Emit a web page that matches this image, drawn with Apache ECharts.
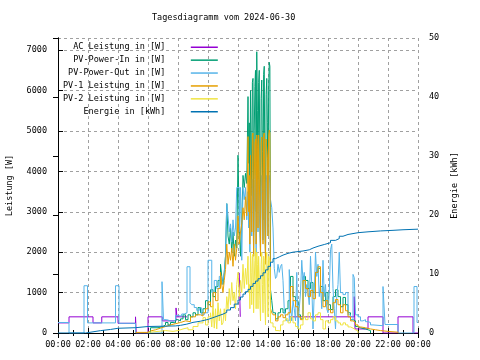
<!DOCTYPE html>
<html><head><meta charset="utf-8">
<script src="https://cdn.jsdelivr.net/npm/echarts@6/dist/echarts.min.js"></script>
<style>html,body{margin:0;padding:0;background:#fff}#c{width:480px;height:360px}</style>
</head><body><div id="c"></div>
<script>
const FONT = '"DejaVu Sans Mono", "Liberation Mono", monospace';
const titleText = 'Tagesdiagramm vom 2024-06-30';
const xTickLabels = ['00:00','02:00','04:00','06:00','08:00','10:00','12:00','14:00','16:00','18:00','20:00','22:00','00:00'];
const seriesNames = ['AC Leistung in [W]','PV-Power-In in [W]','PV-Power-Out in [W]','PV-1 Leistung in [W]','PV-2 Leistung in [W]','Energie in [kWh]'];
const seriesColors = ['#9400d3','#009e73','#56b4e9','#e69f00','#f0e442','#0072b2'];

const acLeistung = [["00:00",250],["00:44",400],["02:20",250],["02:55",400],["04:00",240],["05:10",400],["05:13",0],["06:00",400],["06:57",300],["07:52",620],["07:56",400],["08:36",400],["08:37",null],
  ["12:05",1490],["12:09",400],["12:10",400],["12:11",null],
  ["15:25",400],["19:45",900],["19:48",100],["20:40",400],["21:40",0],["22:40",400],["23:40",0],["24:00",0]];

// 11:00 - 12:35, one value every 5 minutes
const dense1Start = "11:00";
const pvInDense1 = [1200,1500,1900,3200,2400,2200,2600,2000,2500,1900,2300,2100,
  4400,2700,1900,2800,3900,3600,3950,3700];
const pvOutDense1 = [1300,1500,1900,3200,2900,2500,2700,2250,2800,2400,2600,3600,
  3600,2500,3600,1800,3600,3300,3600,2800];
const pv1Dense1 = [1000,1300,1570,2200,1700,2000,1800,2100,1650,2200,1800,2100,
  2900,2200,2500,2700,3100,2800,3370,2900];
const pv2Dense1 = [250,600,300,900,600,1100,700,1250,800,1000,600,1200,
  1500,900,1300,1000,1700,1100,1600,1200];

// 12:40 - 14:10, one value every 2.5 minutes
const dense2Start = "12:40";
const pvInDense2 = [5850,4200,5200,3000,6000,4800,3400,6200,6300,2500,5000,6100,6500,3000,6960,5500,3300,6200,6500,4000,2300,5800,6260,4500,2800,6400,6600,3800,2000,5900,6300,5200,3000,6000,6700,6600,1070];
const pv1Dense2 = [4860,3000,3900,2200,4400,3600,2500,4900,4950,1900,3800,4700,4800,2200,4900,4600,2600,4900,4900,3000,1900,4700,4850,3500,2200,4900,4950,2800,1700,4800,4800,4300,2400,4900,5020,4950,600];
const pv2Dense2 = [1900,1000,1200,600,2000,1500,700,1900,1950,500,1300,1800,2100,600,2000,1700,600,1900,1900,800,300,1700,2000,1200,500,1900,1800,700,200,1800,2000,1500,400,1900,1900,1800,250];
const pvOutDense2 = [3500,2600,3000,2000,3600,3000,2400,3800,3800,1900,3000,3700,3900,2000,3800,3500,2500,3800,3800,2400,2000,3600,3900,2900,2300,3800,3800,2400,1900,3700,3900,3300,2400,3800,3900,3700,3300];

const pvInAm = [["06:00",0],["06:10",130],["06:40",160],["07:00",200],["07:10",260],["07:20",200],["07:30",260],["07:40",250],["07:50",330],["08:00",300],["08:10",350],["08:20",450],["08:30",330],["08:40",450],["08:50",400],["09:00",500],["09:10",450],["09:20",630],["09:30",500],["09:40",600],["09:50",800],["10:00",700],["10:10",1070],["10:20",900],["10:30",1150],["10:40",1300],["10:50",1700],["10:55",1400]];
const pvInPm = [["14:15",800],["14:20",500],["14:30",350],["14:40",500],["14:50",600],["15:00",500],["15:10",600],["15:20",800],["15:30",1400],["15:40",900],["15:50",800],["16:00",450],["16:10",350],["16:20",1400],["16:30",1300],["16:40",1100],["16:50",1250],["17:00",1000],["17:10",1500],["17:20",1600],["17:30",1150],["17:40",800],["17:50",1000],["18:00",700],["18:10",580],["18:20",900],["18:30",1070],["18:40",900],["18:50",650],["19:00",880],["19:10",700],["19:20",500],["19:30",330],["19:40",300],["19:50",160],["20:00",130],["20:10",110],["20:20",100],["20:30",80],["20:40",60],["20:50",0]];

const pvOutAm = [["00:00",260],["00:44",0],["01:44",1170],["01:58",250],["03:50",1170],["04:04",240],["05:10",0],["06:56",1270],["07:02",330],["07:15",300],["07:30",290],["07:40",320],["07:50",430],["08:00",420],["08:15",470],["08:25",500],["08:36",1640],["08:48",750],["08:55",700],["09:05",630],["09:15",560],["09:25",620],["09:35",450],["09:45",500],["10:00",1800],["10:15",1000],["10:25",1300],["10:35",1100],["10:45",1400],["10:55",1200]];
const pvOutPm = [["14:15",3100],["14:20",2600],["14:25",1600],["14:30",1350],["14:35",1400],["14:40",1700],["14:45",1500],["14:50",1650],["14:55",1700],["15:00",1300],["15:05",600],["15:10",400],["15:15",300],["15:25",1570],["15:30",700],["15:35",300],["15:40",800],["15:45",600],["15:50",300],["15:55",1500],["16:00",100],["16:05",600],["16:10",1000],["16:15",1800],["16:20",1300],["16:25",1500],["16:30",900],["16:35",1200],["16:40",1000],["16:45",700],["16:50",1900],["16:55",1200],["17:00",100],["17:05",1000],["17:10",2000],["17:15",1400],["17:20",1700],["17:25",900],["17:30",1200],["17:35",600],["17:40",1800],["17:45",900],["17:50",1200],["17:55",600],["18:00",500],["18:05",1000],["18:10",2060],["18:15",2200],["18:20",1100],["18:25",600],["18:30",100],["18:35",900],["18:40",1200],["18:45",2000],["18:50",1000],["19:00",950],["19:10",1000],["19:20",450],["19:30",330],["19:40",1450],["19:45",1370],["19:50",450],["20:00",400],["20:10",300],["20:20",330],["20:30",280],["20:40",260],["20:50",200],["21:00",180],["21:40",1150],["21:48",210],["22:40",0],["23:44",1150],["23:56",260],["24:00",260]];

const pv1Am = [["05:10",15],["06:00",50],["06:10",80],["06:30",120],["06:50",160],["07:10",200],["07:30",230],["07:50",260],["08:10",300],["08:30",280],["08:50",400],["09:10",450],["09:30",420],["09:40",500],["09:50",600],["10:00",770],["10:10",650],["10:20",1000],["10:30",800],["10:40",1100],["10:50",1500],["10:55",1200]];
const pv1Pm = [["14:15",500],["14:20",450],["14:30",300],["14:40",400],["14:50",450],["15:00",380],["15:10",450],["15:20",500],["15:30",1150],["15:40",800],["15:50",650],["16:00",400],["16:10",330],["16:20",1300],["16:30",1100],["16:40",900],["16:50",1050],["17:00",850],["17:10",1500],["17:20",1640],["17:30",1000],["17:40",650],["17:50",800],["18:00",580],["18:10",500],["18:20",750],["18:30",830],["18:40",700],["18:50",500],["19:00",700],["19:10",550],["19:20",400],["19:30",300],["19:40",260],["19:50",200],["20:00",150],["20:10",130],["20:30",100],["20:50",80],["21:10",60],["21:30",40],["22:00",20],["22:40",0]];

const pv2Am = [["06:00",20],["06:10",40],["06:40",60],["07:10",40],["07:40",60],["08:00",100],["08:20",130],["08:40",80],["09:00",160],["09:20",250],["09:40",380],["09:50",200],["10:00",400],["10:10",500],["10:15",150],["10:20",700],["10:25",120],["10:30",600],["10:35",100],["10:40",750],["10:45",300],["10:50",600],["10:55",200]];
const pv2Pm = [["14:15",250],["14:20",150],["14:30",60],["14:40",50],["14:50",200],["15:00",300],["15:10",350],["15:20",250],["15:30",400],["15:40",250],["15:50",160],["16:00",100],["16:10",200],["16:20",400],["16:30",330],["16:40",500],["16:50",350],["17:00",300],["17:10",450],["17:20",500],["17:30",330],["17:40",100],["17:50",300],["18:00",250],["18:10",330],["18:20",400],["18:30",300],["18:40",250],["18:50",200],["19:00",250],["19:10",200],["19:20",150],["19:30",120],["19:40",80],["19:50",50],["20:00",0]];

const energie = [["00:00",0],["01:50",0.2],["02:20",0.4],["02:50",0.6],["03:30",0.8],["04:00",0.9],["05:10",1.1],["06:00",1.15],["07:00",1.2],["07:50",1.3],["08:10",1.5],["08:35",1.8],["09:00",2.0],["09:30",2.3],["10:00",2.6],["10:20",2.9],["10:40",3.2],["11:00",3.5],["11:15",3.9],["11:30",4.3],["11:45",4.9],["12:00",5.6],["12:10",6.1],["12:20",6.6],["12:30",7.0],["12:40",7.4],["12:50",7.9],["13:00",8.4],["13:10",8.8],["13:20",9.2],["13:30",9.7],["13:40",10.2],["13:50",10.7],["14:00",11.3],["14:10",12.0],["14:20",12.6],["14:30",12.9],["14:45",13.2],["15:00",13.5],["15:20",13.7],["15:40",13.8],["16:00",13.9],["16:20",14.1],["16:45",14.4],["17:00",14.7],["17:20",15.0],["17:45",15.3],["18:10",15.7],["18:30",16.0],["18:45",16.4],["19:00",16.7],["19:20",17.0],["20:00",17.15],["20:40",17.3],["21:30",17.4],["22:20",17.5],["23:00",17.6],["24:00",17.7]];

function t(s){const p=s.split(':').map(Number);return p[0]+p[1]/60;}
function pairs(a){return a.map(d=>[t(d[0]),d[1]]);}
function seq(start,stepMin,vals){const s=t(start);return vals.map((v,i)=>[s+i*stepMin/60,v]);}

const dataSets = [
  pairs(acLeistung),
  pairs(pvInAm).concat(seq(dense1Start,5,pvInDense1),seq(dense2Start,2.5,pvInDense2),pairs(pvInPm)),
  pairs(pvOutAm).concat(seq(dense1Start,5,pvOutDense1),seq(dense2Start,2.5,pvOutDense2),pairs(pvOutPm)),
  pairs(pv1Am).concat(seq(dense1Start,5,pv1Dense1),seq(dense2Start,2.5,pv1Dense2),pairs(pv1Pm)),
  pairs(pv2Am).concat(seq(dense1Start,5,pv2Dense1),seq(dense2Start,2.5,pv2Dense2),pairs(pv2Pm)),
  pairs(energie)
];

const txt = {fontFamily:FONT,fontSize:8.5,color:'#000'};
const chart = echarts.init(document.getElementById('c'),null,{renderer:'canvas'});
chart.setOption({
  animation:false,
  backgroundColor:'#fff',
  title:{text:titleText,left:152,top:13,padding:0,textStyle:Object.assign({fontWeight:'normal'},txt)},
  legend:{orient:'vertical',left:63,top:42,padding:0,align:'right',icon:'rect',itemWidth:27,itemHeight:1.5,itemGap:2.4,
    selectedMode:false,data:seriesNames,
    textStyle:Object.assign({lineHeight:10.5},txt),
    formatter:n=>n.padStart(20,' ')+'    '},
  grid:{left:58,right:62,top:38,bottom:27,containLabel:false,outerBoundsMode:'none'},
  xAxis:[
    {type:'value',min:0,max:24,interval:2,position:'bottom',
     axisLine:{lineStyle:{color:'#000',width:1}},
     axisTick:{inside:true,length:5,lineStyle:{color:'#000'}},
     minorTick:{show:true,splitNumber:2,length:3,lineStyle:{color:'#000'}},
     axisLabel:Object.assign({margin:7,formatter:v=>xTickLabels[Math.round(v/2)]},txt),
     splitLine:{show:true,lineStyle:{color:'#a0a0a0',type:[3,3],width:1}}},
    {type:'value',min:0,max:24,interval:2,position:'top',
     axisLine:{lineStyle:{color:'#000',width:1}},
     axisTick:{inside:true,length:5,lineStyle:{color:'#000'}},
     minorTick:{show:true,splitNumber:2,length:3,lineStyle:{color:'#000'}},
     axisLabel:{show:false},splitLine:{show:false}}
  ],
  yAxis:[
    {type:'value',min:0,max:7300,interval:1000,position:'left',
     name:'Leistung [W]',nameLocation:'middle',nameGap:44,nameRotate:90,nameTextStyle:txt,
     axisLine:{show:true,lineStyle:{color:'#000',width:1}},
     axisTick:{inside:true,length:5,lineStyle:{color:'#000'}},
     axisLabel:Object.assign({margin:11,showMaxLabel:false,formatter:v=>String(v)},txt),
     splitLine:{show:true,lineStyle:{color:'#a0a0a0',type:[3,3],width:1}}},
    {type:'value',min:0,max:50,interval:10,position:'right',
     name:'Energie [kWh]',nameLocation:'middle',nameGap:32,nameRotate:90,nameTextStyle:txt,
     axisLine:{show:true,lineStyle:{color:'#000',width:1}},
     axisTick:{inside:true,length:5,lineStyle:{color:'#000'}},
     axisLabel:Object.assign({margin:11,formatter:v=>String(v)},txt),
     splitLine:{show:false}}
  ],
  series:seriesNames.map((n,i)=>({
    name:n,type:'line',step:'end',data:dataSets[i],
    xAxisIndex:0,yAxisIndex:i===5?1:0,
    showSymbol:false,symbol:'none',connectNulls:false,
    color:seriesColors[i],lineStyle:{color:seriesColors[i],width:1},
    emphasis:{disabled:true},silent:true
  }))
});
</script></body></html>
